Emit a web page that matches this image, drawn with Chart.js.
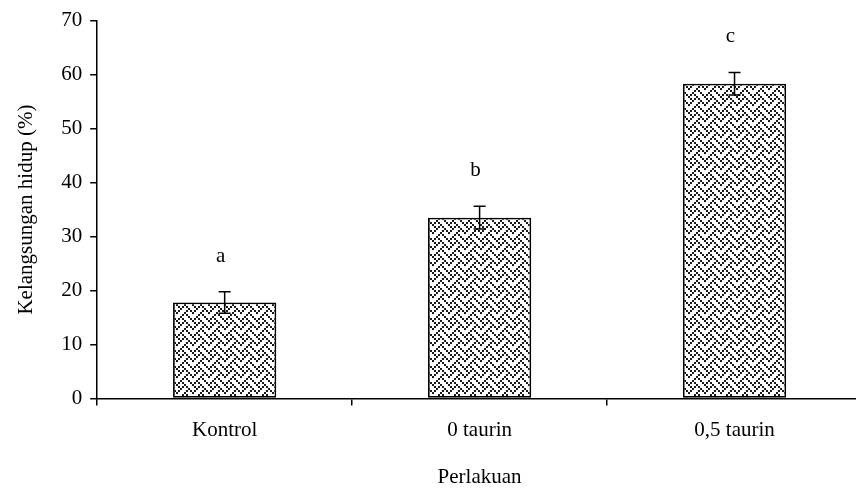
<!DOCTYPE html>
<html>
<head>
<meta charset="utf-8">
<script src="https://cdn.jsdelivr.net/npm/chart.js@4/dist/chart.umd.min.js"></script>
<style>
  html, body { margin: 0; padding: 0; background: #fff; overflow: hidden; }
  #wrap { width: 862px; height: 490px; }
</style>
</head>
<body>
<div id="wrap"><canvas id="c" width="862" height="490"></canvas></div>
<script>
const categories = ["Kontrol", "0 taurin", "0,5 taurin"];
const values = [17.8, 33.5, 58.3];
const errors = [2.0, 2.1, 2.1];
const letters = ["a", "b", "c"];
const yTicks = [0, 10, 20, 30, 40, 50, 60, 70];
const yTitle = "Kelangsungan hidup (%)";
const xTitle = "Perlakuan";

const FONT = "'Liberation Serif', 'Times New Roman', serif";
const FS = 21;

const ctx0 = document.getElementById('c').getContext('2d');
const pattern = ctx0.createPattern((function(){
  const bits = [0x88, 0x54, 0x22, 0x45, 0x88, 0x14, 0x22, 0x51];
  const s = 2;
  const n = 8 * s;
  const t = document.createElement('canvas');
  t.width = n; t.height = n;
  const g = t.getContext('2d');
  g.fillStyle = '#ffffff';
  g.fillRect(0, 0, n, n);
  g.fillStyle = '#1a1a1a';
  for (let r = 0; r < 8; r++)
    for (let c = 0; c < 8; c++)
      if (bits[r] & (0x80 >> c)) g.fillRect(c * s, r * s, s, s);
  return t;
})(), 'repeat');

const extras = {
  id: 'extras',
  afterDatasetsDraw(chart) {
    const { ctx, scales: { x, y } } = chart;
    ctx.save();
    ctx.strokeStyle = '#000';
    ctx.lineWidth = 1.5;
    values.forEach((v, i) => {
      const cx = x.getPixelForValue(i);
      const top = y.getPixelForValue(v + errors[i]);
      const bot = y.getPixelForValue(v - errors[i]);
      ctx.beginPath();
      ctx.moveTo(cx, top); ctx.lineTo(cx, bot);
      ctx.moveTo(cx - 6, top); ctx.lineTo(cx + 6, top);
      ctx.moveTo(cx - 6, bot); ctx.lineTo(cx + 6, bot);
      ctx.stroke();
      ctx.fillStyle = '#000';
      ctx.font = FS + 'px ' + FONT;
      ctx.textAlign = 'center';
      ctx.textBaseline = 'alphabetic';
      ctx.fillText(letters[i], cx - 4, top - 30);
    });
    ctx.restore();
  }
};

new Chart(ctx0, {
  type: 'bar',
  data: {
    labels: categories,
    datasets: [{
      data: values,
      backgroundColor: pattern,
      borderColor: '#000',
      borderWidth: 1.8,
      borderSkipped: false,
      barPercentage: 0.405,
      categoryPercentage: 1.0
    }]
  },
  options: {
    responsive: false,
    animation: false,
    devicePixelRatio: 1,
    layout: { padding: { top: 8, right: 0, bottom: 0, left: 14 } },
    plugins: { legend: { display: false }, tooltip: { enabled: false } },
    scales: {
      x: {
        offset: true,
        grid: { display: true, offset: true, drawOnChartArea: false, drawTicks: true, tickLength: 7, color: '#000', lineWidth: 1.5 },
        border: { display: true, color: '#000', width: 1.5 },
        ticks: { color: '#000', font: { family: FONT, size: FS }, padding: 12 },
        title: { display: true, text: xTitle, color: '#000', font: { family: FONT, size: FS }, padding: { top: 10, bottom: 0 } }
      },
      y: {
        min: 0, max: 70,
        afterBuildTicks(axis) { axis.ticks = yTicks.map(v => ({ value: v })); },
        grid: { display: true, drawOnChartArea: false, drawTicks: true, tickLength: 7, color: '#000', lineWidth: 1.5 },
        border: { display: true, color: '#000', width: 1.5 },
        ticks: { color: '#000', font: { family: FONT, size: FS }, padding: 8 },
        title: { display: true, text: yTitle, color: '#000', font: { family: FONT, size: FS }, padding: { top: 0, bottom: 14 } }
      }
    }
  },
  plugins: [extras]
});
</script>
</body>
</html>
